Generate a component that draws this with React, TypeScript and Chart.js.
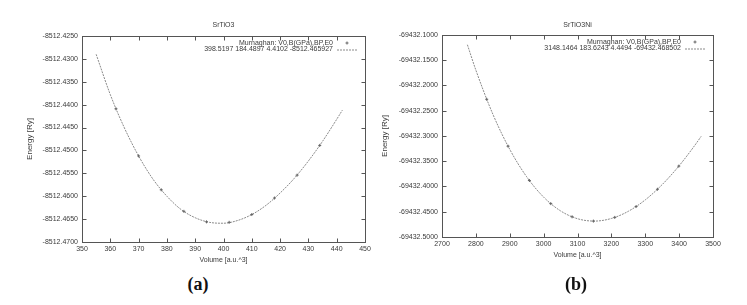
import React, { useEffect, useRef } from "react";
import { Chart, registerables } from "chart.js";

Chart.register(...registerables);

const FONT = "'Liberation Sans', Arial, Helvetica, sans-serif";

// ---------- (a) SrTiO3 ----------
const titleA = "SrTiO3";
const pointsLabelA = "Murnaghan: V0,B(GPa),BP,E0";
const fitLabelA = "398.5197 184.4897 4.4102 -8512.465927";
const volumesA = [362, 370, 378, 386, 394, 402, 410, 418, 426, 434];
const energiesA = [-8512.4409, -8512.4512, -8512.4586, -8512.4633, -8512.4656, -8512.4657, -8512.464, -8512.4604, -8512.4554, -8512.4489];
const fitVolumesA = [355, 360, 365, 370, 375, 380, 385, 390, 395, 400, 405, 410, 415, 420, 425, 430, 435, 440, 442];
const fitEnergiesA = [-8512.429, -8512.4378, -8512.4451, -8512.4512, -8512.4562, -8512.46, -8512.4629, -8512.4647, -8512.4657, -8512.4659, -8512.4653, -8512.464, -8512.462, -8512.4593, -8512.4561, -8512.4523, -8512.448, -8512.4432, -8512.4412];
const xTicksA = [350, 360, 370, 380, 390, 400, 410, 420, 430, 440, 450];
const yTicksA = [-8512.47, -8512.465, -8512.46, -8512.455, -8512.45, -8512.445, -8512.44, -8512.435, -8512.43, -8512.425];

// ---------- (b) SrTiO3Ni ----------
const titleB = "SrTiO3Ni";
const pointsLabelB = "Murnaghan: V0,B(GPa),BP,E0";
const fitLabelB = "3148.1464 183.6243 4.4494 -69432.468502";
const volumesB = [2832, 2895, 2958, 3021, 3084, 3147, 3210, 3273, 3336, 3399];
const energiesB = [-69432.2273, -69432.3202, -69432.3881, -69432.4339, -69432.46, -69432.4685, -69432.4612, -69432.4397, -69432.4055, -69432.3597];
const fitVolumesB = [2775, 2800, 2850, 2900, 2950, 3000, 3050, 3100, 3150, 3200, 3250, 3300, 3350, 3400, 3450, 3465];
const fitEnergiesB = [-69432.1193, -69432.1696, -69432.2566, -69432.3264, -69432.3808, -69432.421, -69432.4483, -69432.4638, -69432.4685, -69432.4633, -69432.4491, -69432.4265, -69432.3962, -69432.3589, -69432.3151, -69432.3007];
const xTicksB = [2700, 2800, 2900, 3000, 3100, 3200, 3300, 3400, 3500];
const yTicksB = [-69432.5, -69432.45, -69432.4, -69432.35, -69432.3, -69432.25, -69432.2, -69432.15, -69432.1];

const xTitle = "Volume [a.u.^3]";
const yTitle = "Energy [Ry]";

const TEXT = "#3a3a3a";
const FRAME = "#555";

const framePlugin = {
  id: "gnuFrame",
  afterDatasetsDraw(chart: any) {
    const { ctx, chartArea, scales } = chart;
    const l = Math.round(chartArea.left) + 0.5;
    const r = Math.round(chartArea.right) + 0.5;
    const t = Math.round(chartArea.top) + 0.5;
    const b = Math.round(chartArea.bottom) + 0.5;
    ctx.save();
    ctx.strokeStyle = FRAME;
    ctx.lineWidth = 1;
    ctx.strokeRect(l, t, r - l, b - t);
    const len = 4;
    ctx.beginPath();
    scales.x.ticks.forEach((tk: any) => {
      const x = Math.round(scales.x.getPixelForValue(tk.value)) + 0.5;
      ctx.moveTo(x, b);
      ctx.lineTo(x, b - len);
      ctx.moveTo(x, t);
      ctx.lineTo(x, t + len);
    });
    scales.y.ticks.forEach((tk: any) => {
      const y = Math.round(scales.y.getPixelForValue(tk.value)) + 0.5;
      ctx.moveTo(l, y);
      ctx.lineTo(l + len, y);
      ctx.moveTo(r, y);
      ctx.lineTo(r - len, y);
    });
    ctx.stroke();
    ctx.restore();
  },
};

const keyPlugin = {
  id: "gnuKey",
  afterDraw(chart: any) {
    const { ctx, chartArea } = chart;
    ctx.save();
    ctx.font = `7px ${FONT}`;
    ctx.textAlign = "right";
    ctx.textBaseline = "middle";
    chart.data.datasets.forEach((ds: any, i: number) => {
      const y = chartArea.top + 7 + i * 6.5;
      ctx.fillStyle = TEXT;
      ctx.fillText(ds.label, chartArea.right - 32, y);
      if (ds.showLine === false) {
        const cx = chartArea.right - 18;
        ctx.strokeStyle = ds.borderColor;
        ctx.lineWidth = 1;
        ctx.beginPath();
        ctx.moveTo(cx - 1.5, y);
        ctx.lineTo(cx + 1.5, y);
        ctx.moveTo(cx, y - 1.5);
        ctx.lineTo(cx, y + 1.5);
        ctx.stroke();
      } else {
        ctx.strokeStyle = ds.borderColor;
        ctx.lineWidth = 1;
        ctx.setLineDash(ds.borderDash || []);
        ctx.beginPath();
        ctx.moveTo(chartArea.right - 28, y + 0.5);
        ctx.lineTo(chartArea.right - 8, y + 0.5);
        ctx.stroke();
        ctx.setLineDash([]);
      }
    });
    ctx.restore();
  },
};

type PanelProps = {
  left: number;
  width: number;
  height: number;
  title: string;
  pointsLabel: string;
  fitLabel: string;
  volumes: number[];
  energies: number[];
  fitVolumes: number[];
  fitEnergies: number[];
  xTicks: number[];
  yTicks: number[];
  yAxisWidth: number;
  padRight: number;
  padBottom: number;
  titlePadBottom: number;
  yTitlePad: number;
};

function Panel(p: PanelProps) {
  const ref = useRef<HTMLCanvasElement>(null);
  useEffect(() => {
    if (!ref.current) return;
    const chart = new Chart(ref.current, {
      type: "scatter",
      data: {
        datasets: [
          {
            label: p.pointsLabel,
            data: p.volumes.map((v, i) => ({ x: v, y: p.energies[i] })),
            showLine: false,
            pointStyle: "cross",
            pointRadius: 1.5,
            pointBorderWidth: 1,
            borderColor: "#666",
            backgroundColor: "#666",
            order: 0,
          } as any,
          {
            label: p.fitLabel,
            data: p.fitVolumes.map((v, i) => ({ x: v, y: p.fitEnergies[i] })),
            showLine: true,
            pointRadius: 0,
            borderColor: "#8a8a8a",
            borderWidth: 1,
            borderDash: [2, 1],
            cubicInterpolationMode: "monotone",
            order: 1,
          } as any,
        ],
      },
      options: {
        animation: false,
        responsive: false,
        devicePixelRatio: 1,
        layout: { padding: { left: 0, top: 0, right: p.padRight, bottom: p.padBottom } },
        plugins: {
          legend: { display: false },
          tooltip: { enabled: false },
          title: {
            display: true,
            text: p.title,
            fullSize: false,
            color: TEXT,
            font: { family: FONT, size: 7, weight: "normal" },
            padding: { top: 21, bottom: p.titlePadBottom },
          },
        },
        scales: {
          x: {
            type: "linear",
            min: p.xTicks[0],
            max: p.xTicks[p.xTicks.length - 1],
            grid: { display: false, drawTicks: false },
            border: { display: false },
            afterBuildTicks: (axis: any) => {
              axis.ticks = p.xTicks.map((v) => ({ value: v }));
            },
            afterFit: (axis: any) => {
              axis.height = 28;
            },
            ticks: {
              color: TEXT,
              font: { family: FONT, size: 7 },
              padding: 3,
              maxRotation: 0,
              autoSkip: false,
              callback: (v: any) => String(v),
            },
            title: {
              display: true,
              text: xTitle,
              color: TEXT,
              font: { family: FONT, size: 7 },
              padding: { top: 0, bottom: 6 },
            },
          },
          y: {
            type: "linear",
            min: p.yTicks[0],
            max: p.yTicks[p.yTicks.length - 1],
            grid: { display: false, drawTicks: false },
            border: { display: false },
            afterBuildTicks: (axis: any) => {
              axis.ticks = p.yTicks.map((v) => ({ value: v }));
            },
            afterFit: (axis: any) => {
              axis.width = p.yAxisWidth;
            },
            ticks: {
              color: TEXT,
              font: { family: FONT, size: 7 },
              padding: 4,
              autoSkip: false,
              callback: (v: any) => Number(v).toFixed(4),
            },
            title: {
              display: true,
              text: yTitle,
              color: TEXT,
              font: { family: FONT, size: 8 },
              padding: { top: p.yTitlePad, bottom: 0 },
            },
          },
        },
      } as any,
      plugins: [framePlugin, keyPlugin],
    });
    return () => chart.destroy();
  }, []);
  return (
    <canvas
      ref={ref}
      width={p.width}
      height={p.height}
      style={{ position: "absolute", left: p.left, top: 0, width: p.width, height: p.height }}
    />
  );
}

const labelStyle: React.CSSProperties = {
  position: "absolute",
  top: 272,
  width: 40,
  textAlign: "center",
  fontFamily: "'Liberation Serif', 'Times New Roman', serif",
  fontWeight: "bold",
  fontSize: 18,
  lineHeight: "24px",
  color: "#111",
};

export default function App() {
  return (
    <div style={{ position: "absolute", left: 0, top: 0, width: 747, height: 305, background: "#fff", overflow: "hidden" }}>
      <Panel
        left={0}
        width={380}
        height={270}
        title={titleA}
        pointsLabel={pointsLabelA}
        fitLabel={fitLabelA}
        volumes={volumesA}
        energies={energiesA}
        fitVolumes={fitVolumesA}
        fitEnergies={fitEnergiesA}
        xTicks={xTicksA}
        yTicks={yTicksA}
        yAxisWidth={82}
        padRight={15}
        padBottom={0}
        titlePadBottom={6.6}
        yTitlePad={25}
      />
      <Panel
        left={375}
        width={372}
        height={270}
        title={titleB}
        pointsLabel={pointsLabelB}
        fitLabel={fitLabelB}
        volumes={volumesB}
        energies={energiesB}
        fitVolumes={fitVolumesB}
        fitEnergies={fitEnergiesB}
        xTicks={xTicksB}
        yTicks={yTicksB}
        yAxisWidth={67}
        padRight={34}
        padBottom={5}
        titlePadBottom={5.6}
        yTitlePad={5}
      />
      <div style={{ ...labelStyle, left: 178 }}>(a)</div>
      <div style={{ ...labelStyle, left: 556 }}>(b)</div>
    </div>
  );
}
